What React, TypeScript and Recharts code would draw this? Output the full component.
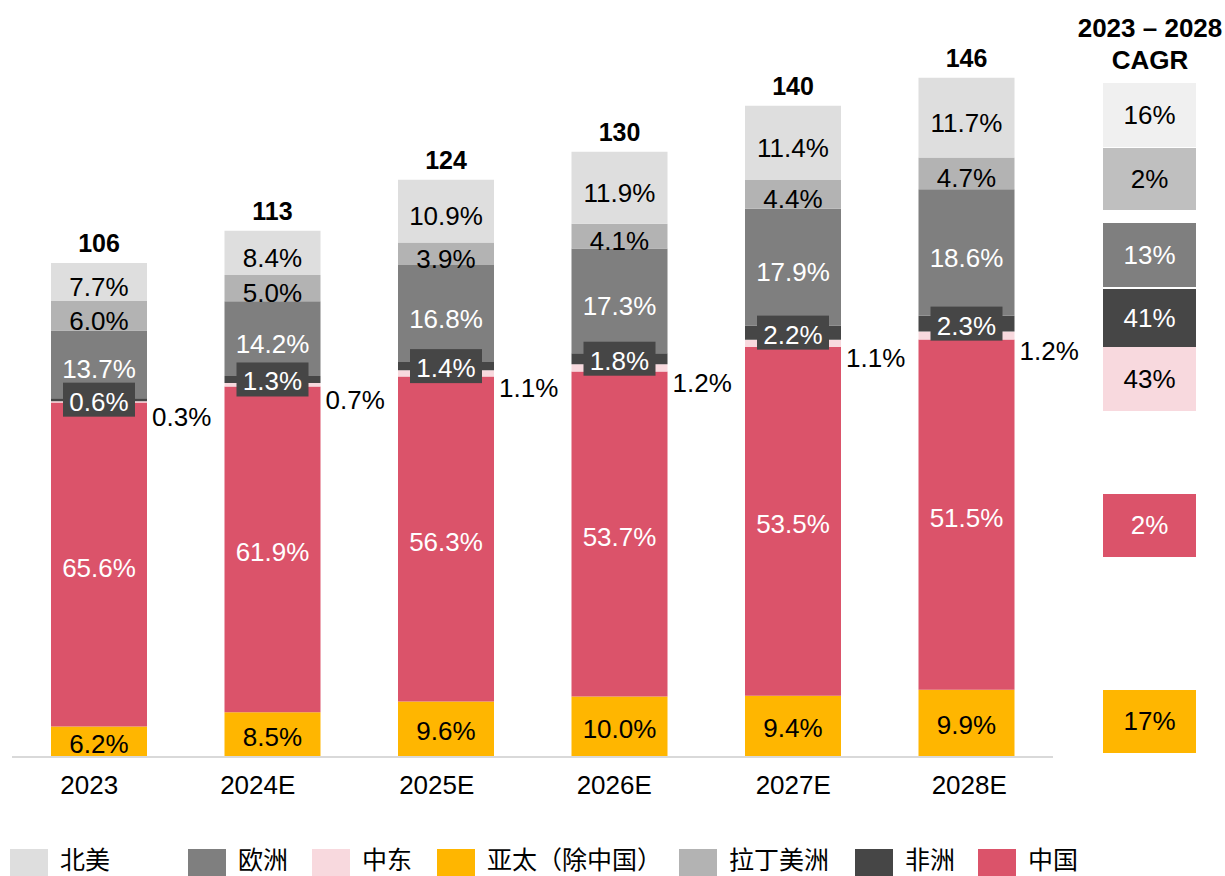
import { BarChart, Bar, XAxis, YAxis, LabelList } from "recharts";

const years = ["2023", "2024E", "2025E", "2026E", "2027E", "2028E"];
const totals = [106, 113, 124, 130, 140, 146];

// share of each region in %, per year
const apacShare = [6.2, 8.5, 9.6, 10.0, 9.4, 9.9];
const chinaShare = [65.6, 61.9, 56.3, 53.7, 53.5, 51.5];
const meShare = [0.3, 0.7, 1.1, 1.2, 1.1, 1.2];
const africaShare = [0.6, 1.3, 1.4, 1.8, 2.2, 2.3];
const europeShare = [13.7, 14.2, 16.8, 17.3, 17.9, 18.6];
const latamShare = [6.0, 5.0, 3.9, 4.1, 4.4, 4.7];
const naShare = [7.7, 8.4, 10.9, 11.9, 11.4, 11.7];

// 2023 - 2028 CAGR
const cagrLabels = {
  na: "16%",
  latam: "2%",
  europe: "13%",
  africa: "41%",
  me: "43%",
  china: "2%",
  apac: "17%",
};

const FONT = "'Liberation Sans', Arial, sans-serif";
const CJK = "'Noto Sans CJK SC', sans-serif";

// the year labels sit a bit off the bar centres in the original
const tickShift = [-9.5, -14.5, -9, -5, 0.5, 3];

type Mode = "inside" | "box" | "outside";

// stacked bottom -> top
const series: {
  key: string;
  name: string;
  color: string;
  text: string;
  shares: number[];
  mode: Mode;
  dy: number;
}[] = [
  { key: "apac", name: "亚太（除中国）", color: "#ffb600", text: "#000", shares: apacShare, mode: "inside", dy: 2 },
  { key: "china", name: "中国", color: "#db536a", text: "#fff", shares: chinaShare, mode: "inside", dy: 3 },
  { key: "me", name: "中东", color: "#f8d9de", text: "#000", shares: meShare, mode: "outside", dy: 15 },
  { key: "africa", name: "非洲", color: "#464646", text: "#fff", shares: africaShare, mode: "box", dy: 0 },
  { key: "europe", name: "欧洲", color: "#7f7f7f", text: "#fff", shares: europeShare, mode: "inside", dy: 5 },
  { key: "latam", name: "拉丁美洲", color: "#b3b3b3", text: "#000", shares: latamShare, mode: "inside", dy: 5 },
  { key: "na", name: "北美", color: "#dedede", text: "#000", shares: naShare, mode: "inside", dy: 5 },
];

const data = years.map((year, i) => {
  const row: Record<string, number | string> = { year, total: totals[i] };
  series.forEach((s) => {
    row[s.key] = (totals[i] * s.shares[i]) / 100;
    row[s.key + "Pct"] = s.shares[i].toFixed(1) + "%";
  });
  return row;
});

// legend order and x positions as in the original
const legendItems: { key: string; left: number }[] = [
  { key: "na", left: 10 },
  { key: "europe", left: 188 },
  { key: "me", left: 312 },
  { key: "apac", left: 437 },
  { key: "latam", left: 679 },
  { key: "africa", left: 855 },
  { key: "china", left: 978 },
];

// right-hand CAGR boxes
const cagrBoxes: { key: string; top: number; height: number; color: string; text: string }[] = [
  { key: "na", top: 83, height: 64, color: "#f0f0f0", text: "#000" },
  { key: "latam", top: 148, height: 62, color: "#bfbfbf", text: "#000" },
  { key: "europe", top: 223, height: 64, color: "#7f7f7f", text: "#fff" },
  { key: "africa", top: 289, height: 58, color: "#464646", text: "#fff" },
  { key: "me", top: 347, height: 64, color: "#f8d9de", text: "#000" },
  { key: "china", top: 494, height: 63, color: "#db536a", text: "#fff" },
  { key: "apac", top: 690, height: 63, color: "#ffb600", text: "#000" },
];

function makeLabel(mode: Mode, color: string, text: string, dy: number) {
  return (props: any) => {
    const x = Number(props.x);
    const y = Number(props.y);
    const w = Number(props.width);
    const h = Number(props.height);
    const cx = x + w / 2;
    const cy = y + h / 2;
    if (mode === "outside") {
      return (
        <text x={x + w + 5} y={cy + dy} fontSize={26} fontFamily={FONT} fill="#000" dominantBaseline="central">
          {props.value}
        </text>
      );
    }
    if (mode === "box") {
      return (
        <g>
          <rect x={cx - 36} y={cy - 17} width={72} height={34} fill={color} />
          <text x={cx} y={cy + 2} fontSize={26} fontFamily={FONT} fill={text} textAnchor="middle" dominantBaseline="central">
            {props.value}
          </text>
        </g>
      );
    }
    return (
      <text x={cx} y={cy + dy} fontSize={26} fontFamily={FONT} fill={text} textAnchor="middle" dominantBaseline="central">
        {props.value}
      </text>
    );
  };
}

function TotalLabel(props: any) {
  const x = Number(props.x);
  const y = Number(props.y);
  const w = Number(props.width);
  return (
    <text x={x + w / 2} y={y - 20} fontSize={25} fontWeight="bold" fontFamily={FONT} fill="#000" textAnchor="middle" dominantBaseline="central">
      {props.value}
    </text>
  );
}

function YearTick(props: any) {
  const { x, y, payload, index } = props;
  return (
    <text x={Number(x) + (tickShift[index] ?? 0)} y={Number(y)} dy="0.71em" fontSize={26} fontFamily={FONT} fill="#000" textAnchor="middle">
      {payload.value}
    </text>
  );
}

export default function App() {
  const byKey = Object.fromEntries(series.map((s) => [s.key, s]));
  return (
    <div style={{ position: "absolute", left: 0, top: 0, width: 1225, height: 876, background: "#fff", overflow: "hidden" }}>
      <BarChart
        width={1095}
        height={810}
        data={data}
        margin={{ top: 12, right: 42, left: 12, bottom: 13 }}
      >
        <XAxis
          dataKey="year"
          height={40}
          axisLine={{ stroke: "#d9d9d9", strokeWidth: 2 }}
          tickLine={false}
          tickMargin={13}
          tick={YearTick}
        />
        <YAxis hide domain={[0, 160]} />
        {series.map((s, idx) => (
          <Bar key={s.key} dataKey={s.key} stackId="a" fill={s.color} barSize={96} isAnimationActive={false}>
            <LabelList dataKey={s.key + "Pct"} content={makeLabel(s.mode, s.color, s.text, s.dy)} />
            {idx === series.length - 1 && <LabelList dataKey="total" content={TotalLabel} />}
          </Bar>
        ))}
      </BarChart>

      {/* CAGR column */}
      <div
        style={{
          position: "absolute",
          left: 1070,
          top: 12,
          width: 160,
          textAlign: "center",
          fontFamily: FONT,
          fontWeight: "bold",
          fontSize: 26,
          lineHeight: "32px",
        }}
      >
        2023 – 2028
        <br />
        CAGR
      </div>
      {cagrBoxes.map((b) => (
        <div
          key={b.key}
          style={{
            position: "absolute",
            left: 1103,
            top: b.top,
            width: 93,
            height: b.height,
            background: b.color,
            color: b.text,
            fontFamily: FONT,
            fontSize: 26,
            display: "flex",
            alignItems: "center",
            justifyContent: "center",
          }}
        >
          {cagrLabels[b.key as keyof typeof cagrLabels]}
        </div>
      ))}

      {/* legend */}
      {legendItems.map((it) => (
        <div key={it.key}>
          <div
            style={{ position: "absolute", left: it.left, top: 849, width: 38, height: 27, background: byKey[it.key].color }}
          />
          <div
            style={{
              position: "absolute",
              left: it.left + 50,
              top: 840,
              height: 36,
              fontFamily: CJK,
              fontSize: 25,
              lineHeight: "36px",
              color: "#000",
              whiteSpace: "nowrap",
            }}
          >
            {byKey[it.key].name}
          </div>
        </div>
      ))}
    </div>
  );
}
